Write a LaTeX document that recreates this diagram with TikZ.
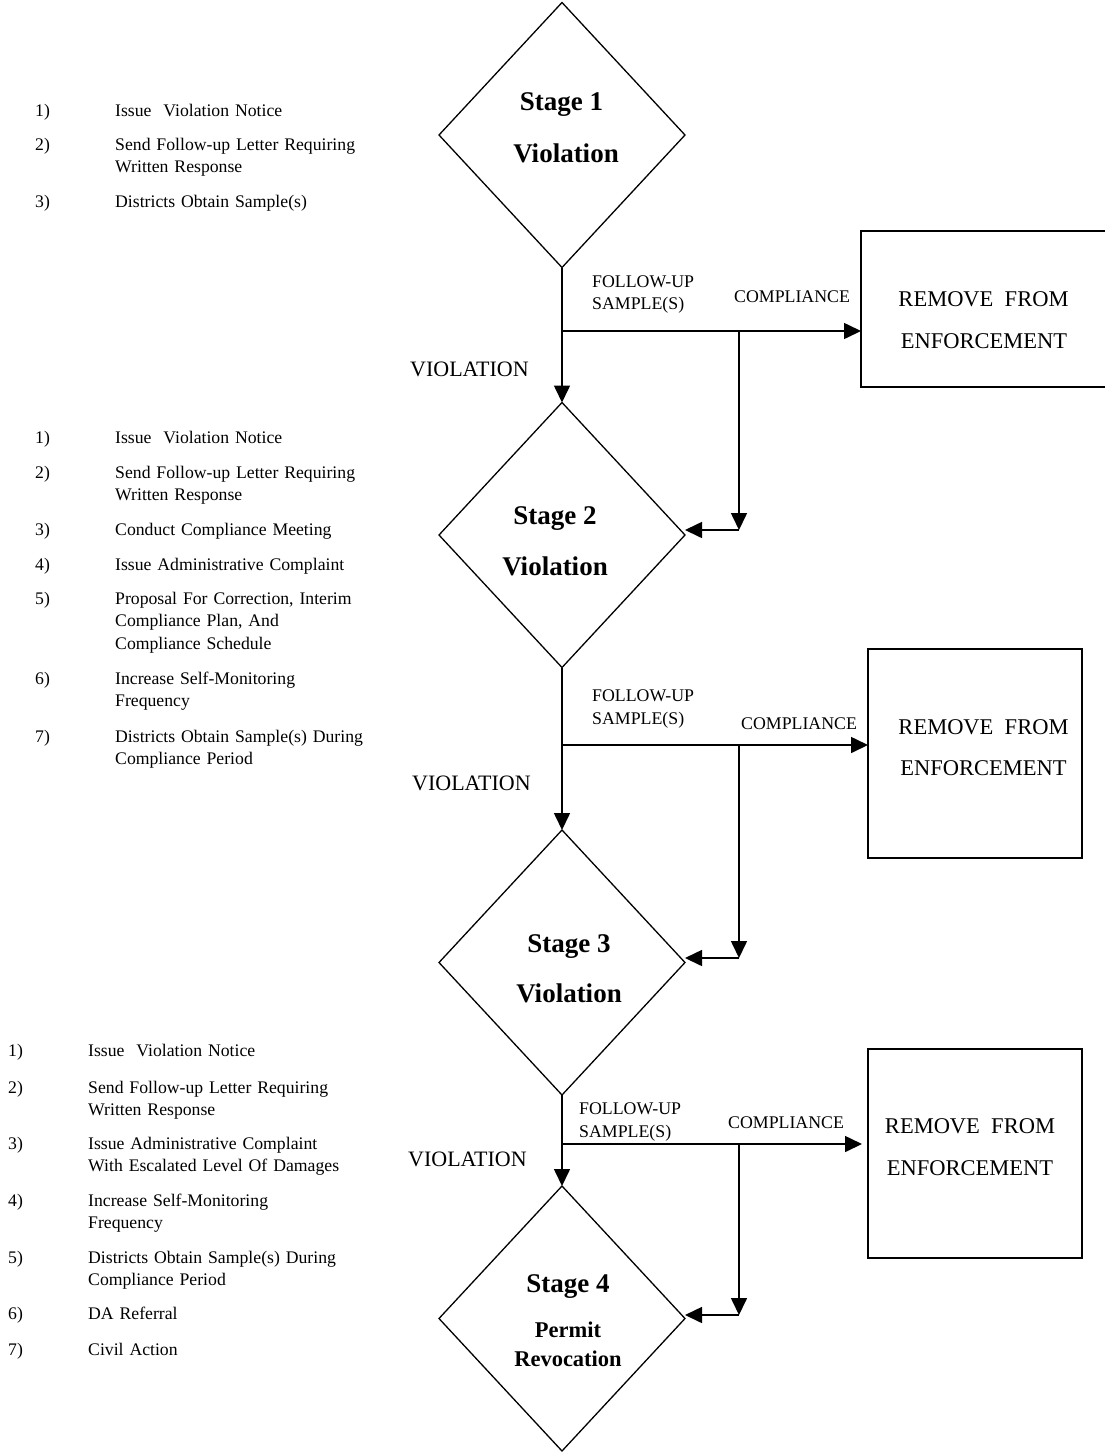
\documentclass[tikz,border=0pt]{standalone}
\usepackage{fontspec}
\setmainfont{Liberation Serif}
\usetikzlibrary{shapes.geometric,arrows.meta}
\begin{document}
\begin{tikzpicture}[x=1pt,y=-1pt,
  stage/.style={draw, diamond, minimum width=246pt, minimum height=265pt, inner sep=0pt, outer sep=0pt, line width=1.3pt},
  rbox/.style={draw, rectangle, inner sep=0pt, outer sep=0pt, line width=1.3pt, anchor=north west},
  conn/.style={line width=1.6pt},
  arr/.style={conn, -{Triangle[length=17pt,width=16pt]}},
  stxt/.style={font=\fontsize{27}{27}\selectfont\bfseries, anchor=base, inner sep=0pt},
  stxts/.style={font=\fontsize{22.5}{22.5}\selectfont\bfseries, anchor=base, inner sep=0pt},
  boxtxt/.style={font=\fontsize{22.5}{22.5}\selectfont, anchor=base, inner sep=0pt},
  lbl/.style={font=\fontsize{17.8}{17.8}\selectfont, anchor=base west, inner sep=0pt},
  viol/.style={font=\fontsize{22}{22}\selectfont, anchor=base west, inner sep=0pt},
  num/.style={font=\fontsize{17.7}{22.5}\selectfont, anchor=base west, inner sep=0pt},
  itm/.style={font=\fontsize{17.7}{22.5}\selectfont, anchor=base west, inner sep=0pt, text width=300pt, align=left},
]
\useasboundingbox (0,0) rectangle (1105,1452);

% ---------- stage diamonds ----------
\node[stage] (d1) at (562,135) {};
\node[stage] (d2) at (562,535) {};
\node[stage] (d3) at (562,962.5) {};
\node[stage] (d4) at (562,1318.5) {};

\node[stxt] (s1a) at (561.5,110) {Stage 1};
\node[stxt] (s1b) at (566,162) {Violation};
\node[stxt] (s2a) at (555,524) {Stage 2};
\node[stxt] (s2b) at (555,575) {Violation};
\node[stxt] (s3a) at (569,952) {Stage 3};
\node[stxt] (s3b) at (569,1002) {Violation};
\node[stxt] (s4a) at (568,1292) {Stage 4};
\node[stxts] (s4b) at (568,1337) {Permit};
\node[stxts] (s4c) at (568,1366) {Revocation};

% ---------- remove boxes ----------
\node[rbox, minimum width=250pt, minimum height=156pt] (b1) at (861,231) {};
\node[rbox, minimum width=214pt, minimum height=209pt] (b2) at (868,649) {};
\node[rbox, minimum width=214pt, minimum height=209pt] (b3) at (868,1049) {};

\node[boxtxt] (b1a) at (983.5,306) {REMOVE~ FROM};
\node[boxtxt] (b1b) at (984,348) {ENFORCEMENT};
\node[boxtxt] (b2a) at (983.5,734) {REMOVE~ FROM};
\node[boxtxt] (b2b) at (983.5,775) {ENFORCEMENT};
\node[boxtxt] (b3a) at (970,1133) {REMOVE~ FROM};
\node[boxtxt] (b3b) at (970,1175) {ENFORCEMENT};

% ---------- flow 1 ----------
\coordinate (j1) at (562,331);
\coordinate (k1) at (739,331);
\coordinate (c1) at (739,530);
\draw[arr] (d1.south) -- (d2.north);
\draw[arr] (j1) -- (j1 -| b1.west);
\draw[arr] (k1) -- (c1);
\draw[arr] (c1) -- (c1 -| d2.east);

% ---------- flow 2 ----------
\coordinate (j2) at (562,745);
\coordinate (k2) at (739,745);
\coordinate (c2) at (739,958);
\draw[arr] (d2.south) -- (d3.north);
\draw[arr] (j2) -- (j2 -| b2.west);
\draw[arr] (k2) -- (c2);
\draw[arr] (c2) -- (c2 -| d3.east);

% ---------- flow 3 ----------
\coordinate (j3) at (562,1144);
\coordinate (k3) at (739,1144);
\coordinate (c3) at (739,1315);
\coordinate (e3) at (862,1144);
\draw[arr] (d3.south) -- (d4.north);
\draw[arr] (j3) -- (e3);
\draw[arr] (k3) -- (c3);
\draw[arr] (c3) -- (c3 -| d4.east);

% ---------- flow labels ----------
\node[lbl] (f1a) at (592,287) {FOLLOW-UP};
\node[lbl] (f1b) at (592,309) {SAMPLE(S)};
\node[lbl] (g1) at (734,302) {COMPLIANCE};
\node[viol] (v1) at (410,376) {VIOLATION};

\node[lbl] (f2a) at (592,701) {FOLLOW-UP};
\node[lbl] (f2b) at (592,724) {SAMPLE(S)};
\node[lbl] (g2) at (741,729) {COMPLIANCE};
\node[viol] (v2) at (412,790) {VIOLATION};

\node[lbl] (f3a) at (579,1114) {FOLLOW-UP};
\node[lbl] (f3b) at (579,1137) {SAMPLE(S)};
\node[lbl] (g3) at (728,1128) {COMPLIANCE};
\node[viol] (v3) at (408,1166) {VIOLATION};

% ---------- list 1 ----------
\node[num] (n11) at (35,116) {1)};
\node[itm] (i11) at (115,116) {Issue~ Violation Notice};
\node[num] (n12) at (35,150) {2)};
\node[itm] (i12) at (115,150) {Send Follow-up Letter Requiring\\Written Response};
\node[num] (n13) at (35,207) {3)};
\node[itm] (i13) at (115,207) {Districts Obtain Sample(s)};

% ---------- list 2 ----------
\node[num] (n21) at (35,443) {1)};
\node[itm] (i21) at (115,443) {Issue~ Violation Notice};
\node[num] (n22) at (35,478) {2)};
\node[itm] (i22) at (115,478) {Send Follow-up Letter Requiring\\Written Response};
\node[num] (n23) at (35,535) {3)};
\node[itm] (i23) at (115,535) {Conduct Compliance Meeting};
\node[num] (n24) at (35,570) {4)};
\node[itm] (i24) at (115,570) {Issue Administrative Complaint};
\node[num] (n25) at (35,604) {5)};
\node[itm] (i25) at (115,604) {Proposal For Correction, Interim\\Compliance Plan, And\\Compliance Schedule};
\node[num] (n26) at (35,684) {6)};
\node[itm] (i26) at (115,684) {Increase Self-Monitoring\\Frequency};
\node[num] (n27) at (35,742) {7)};
\node[itm] (i27) at (115,742) {Districts Obtain Sample(s) During\\Compliance Period};

% ---------- list 3 ----------
\node[num] (n31) at (8,1056) {1)};
\node[itm] (i31) at (88,1056) {Issue~ Violation Notice};
\node[num] (n32) at (8,1093) {2)};
\node[itm] (i32) at (88,1093) {Send Follow-up Letter Requiring\\Written Response};
\node[num] (n33) at (8,1149) {3)};
\node[itm] (i33) at (88,1149) {Issue Administrative Complaint\\With Escalated Level Of Damages};
\node[num] (n34) at (8,1206) {4)};
\node[itm] (i34) at (88,1206) {Increase Self-Monitoring\\Frequency};
\node[num] (n35) at (8,1263) {5)};
\node[itm] (i35) at (88,1263) {Districts Obtain Sample(s) During\\Compliance Period};
\node[num] (n36) at (8,1319) {6)};
\node[itm] (i36) at (88,1319) {DA Referral};
\node[num] (n37) at (8,1355) {7)};
\node[itm] (i37) at (88,1355) {Civil Action};
\end{tikzpicture}
\end{document}
